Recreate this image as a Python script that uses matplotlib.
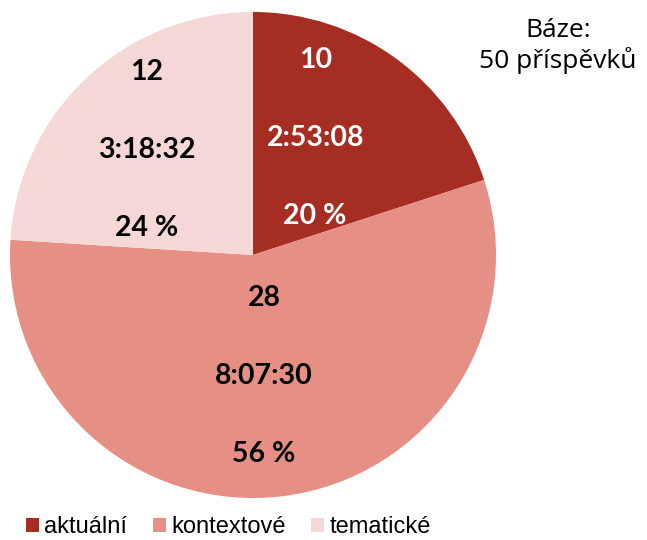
import numpy as np
import matplotlib
matplotlib.use("Agg")
import matplotlib.pyplot as plt
from matplotlib.patches import Patch

categories = ["aktuální", "kontextové", "tematické"]
counts = [10, 28, 12]
durations = ["2:53:08", "8:07:30", "3:18:32"]
percents = [20, 56, 24]
colors = ["#A62D22", "#E68F85", "#F5D8D5"]
text_colors = ["white", "black", "black"]
base_text = "Báze:\n50 příspěvků"

W, H = 647, 540
fig = plt.figure(figsize=(W / 100, H / 100), dpi=100)
ax = fig.add_axes([0, 0, 1, 1])

cx, cy, R = 253, H - 255, 243
wedges, _ = ax.pie(percents, colors=colors, startangle=90, counterclock=False,
                   center=(cx, cy), radius=R, frame=True,
                   wedgeprops=dict(linewidth=0))
ax.set_xlim(0, W)
ax.set_ylim(0, H)
ax.set_aspect("equal")
ax.axis("off")

dist = [0.545, 0.50, 0.615]
dtheta = [8.0, -2.0, 2.1]
line_gap = 78
for w, c, d, p, tc, f, dt in zip(wedges, counts, durations, percents, text_colors, dist, dtheta):
    ang = np.deg2rad((w.theta1 + w.theta2) / 2 + dt)
    x = cx + f * R * np.cos(ang)
    y = cy + f * R * np.sin(ang)
    for k, s in enumerate([str(c), d, f"{p} %"]):
        ax.text(x, y + (1 - k) * line_gap, s, ha="center", va="center",
                color=tc, fontsize=20.5, fontweight="bold", family="Lato")

ax.text(558, H - 46, base_text, ha="center", va="center",
        fontsize=19, family="Open Sans", linespacing=1.2)

handles = [Patch(facecolor=col, edgecolor="none") for col in colors]
fig.legend(handles, categories, loc="lower left", bbox_to_anchor=(0.007, -0.036),
           ncol=3, frameon=False, prop=dict(family="Liberation Sans", size=17),
           handlelength=0.55, handleheight=0.55, handletextpad=0.22, columnspacing=1.1)

fig.savefig("out.png", dpi=100)
